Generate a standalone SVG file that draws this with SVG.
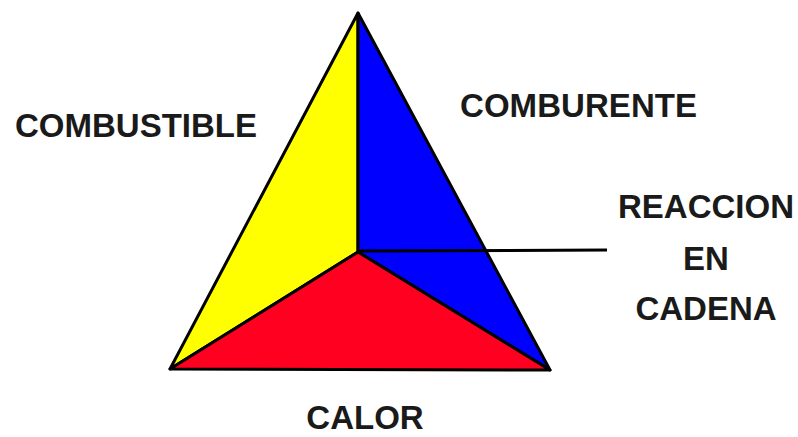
<svg xmlns="http://www.w3.org/2000/svg" width="798" height="437" viewBox="0 0 798 437">
<style>
.face{stroke:#000;stroke-width:3;stroke-linejoin:round}
.lbl{font-family:"Liberation Sans",Arial,sans-serif;font-weight:bold;font-size:33px;fill:#1a1a1a}
</style>
<rect width="798" height="437" fill="#fff"/>
<g id="combustible-face"><polygon class="face" points="358,13 358,252 170,369" fill="#ffff00"/></g>
<g id="comburente-face"><polygon class="face" points="358,13 550,370 358,252" fill="#0000ff"/></g>
<g id="calor-face"><polygon class="face" points="170,369 358,252 550,370" fill="#ff0020"/></g>
<g id="connectors"><line x1="358" y1="251" x2="607" y2="250" stroke="#000" stroke-width="3"/></g>
<g id="label-combustible"><text class="lbl" x="15" y="137" textLength="242">COMBUSTIBLE</text></g>
<g id="label-comburente"><text class="lbl" x="460" y="117" textLength="237">COMBURENTE</text></g>
<g id="label-reaccion"><text class="lbl" x="706" y="218" text-anchor="middle" font-size="31">REACCION</text>
<text class="lbl" x="706" y="270" text-anchor="middle" font-size="31">EN</text>
<text class="lbl" x="706" y="320" text-anchor="middle" font-size="31">CADENA</text></g>
<g id="label-calor"><text class="lbl" x="365" y="429" text-anchor="middle" font-size="31">CALOR</text></g>
</svg>
